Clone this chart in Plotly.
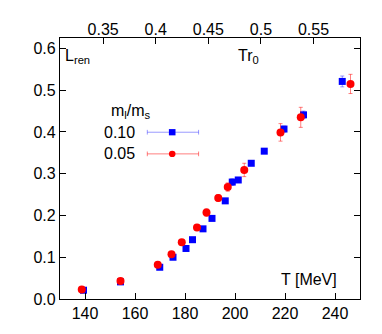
import plotly.graph_objects as go

# ---- data ----
T_010 = [139.4, 154.2, 169.9, 175.2, 180.4, 183.0, 187.2, 190.8, 196.1, 198.9,
         201.3, 206.5, 211.7, 219.6, 227.4, 242.9]
L_010 = [0.021, 0.041, 0.076, 0.100, 0.121, 0.142, 0.168, 0.193, 0.235, 0.280,
         0.285, 0.325, 0.354, 0.407, 0.441, 0.521]
E_010 = [0.002, 0.002, 0.003, 0.003, 0.003, 0.003, 0.004, 0.004, 0.004, 0.008,
         0.005, 0.004, 0.004, 0.007, 0.009, 0.013]

T_005 = [138.7, 154.2, 169.1, 174.6, 178.7, 184.8, 188.6, 193.3, 197.1, 203.7,
         218.2, 226.3, 246.2]
L_005 = [0.023, 0.043, 0.082, 0.107, 0.136, 0.171, 0.207, 0.242, 0.268, 0.309,
         0.399, 0.435, 0.515]
E_005 = [0.003, 0.003, 0.004, 0.005, 0.005, 0.006, 0.009, 0.008, 0.010, 0.016,
         0.021, 0.024, 0.023]

x_range = [130, 250]
y_range = [0, 0.625]
x_ticks = [140, 160, 180, 200, 220, 240]
y_ticks = [0.0, 0.1, 0.2, 0.3, 0.4, 0.5, 0.6]
y_ticklabels = ["0.0", "0.1", "0.2", "0.3", "0.4", "0.5", "0.6"]
top_ticks = [0.35, 0.4, 0.45, 0.5, 0.55]
top_ticklabels = ["0.35", "0.4", "0.45", "0.5", "0.55"]
r0_fm = 0.469
hbarc = 197.327
conv = r0_fm / hbarc

FONT = "Liberation Sans, Arial, sans-serif"
BLUE = "#0000ff"
RED = "#ff0000"

fig = go.Figure()
fig.add_trace(go.Scatter(
    x=T_010, y=L_010, mode="markers",
    marker=dict(symbol="square", size=7, color=BLUE),
    error_y=dict(type="data", array=E_010, color="rgba(0,0,255,0.4)", thickness=1, width=2),
    showlegend=False))
fig.add_trace(go.Scatter(
    x=T_005, y=L_005, mode="markers",
    marker=dict(symbol="circle", size=8, color=RED),
    error_y=dict(type="data", array=E_005, color="rgba(255,0,0,0.5)", thickness=1, width=2),
    showlegend=False))
# invisible trace to carry the top (Tr0) axis
fig.add_trace(go.Scatter(
    x=[t * conv for t in T_010], y=L_010, xaxis="x2", mode="markers",
    marker=dict(opacity=0), hoverinfo="skip", showlegend=False))

axis_common = dict(showline=True, linecolor="black", linewidth=1.2, ticks="inside",
                   ticklen=6, tickcolor="black", showgrid=False, zeroline=False,
                   tickfont=dict(family=FONT, size=16, color="black"))

# page body has an 8px margin, so the figure is shifted by 8px; compensate
fig.update_layout(
    width=374, height=326,
    margin=dict(l=52, r=22, t=25, b=27),
    paper_bgcolor="white", plot_bgcolor="white",
    xaxis=dict(range=x_range, tickvals=x_ticks, **axis_common),
    xaxis2=dict(range=[x_range[0] * conv, x_range[1] * conv], overlaying="x", side="top",
                tickvals=top_ticks, ticktext=top_ticklabels, ticklabelstandoff=-4,
                **axis_common),
    yaxis=dict(range=y_range, tickvals=y_ticks, ticktext=y_ticklabels, mirror="ticks",
               **axis_common),
)

# ---- annotations ----
def ann(text, x, y, xanchor, yanchor="middle", size=16):
    fig.add_annotation(text=text, x=x, y=y, xref="paper", yref="paper",
                       xanchor=xanchor, yanchor=yanchor, showarrow=False,
                       font=dict(family=FONT, size=size, color="black"))

ann("L<sub>ren</sub>", 0.01, 0.93, "left")
ann("Tr<sub>0</sub>", 0.585, 0.93, "left")
ann("T [MeV]", 0.93, 0.075, "right")
ann("m<sub>l</sub>/m<sub>s</sub>", 0.236, 0.72, "center")
ann("0.10", 0.255, 0.639, "right")
ann("0.05", 0.255, 0.556, "right")

# legend keys (paper coords)
def key(yp, color, symbol):
    x0, x1 = 0.291, 0.462
    xm = 0.374
    fig.add_shape(type="line", xref="paper", yref="paper", x0=x0, x1=x1, y0=yp, y1=yp,
                  line=dict(color=color, width=1))
    for xc in (x0, x1):
        fig.add_shape(type="line", xref="paper", yref="paper", x0=xc, x1=xc,
                      y0=yp - 0.009, y1=yp + 0.009, line=dict(color=color, width=1))
    w = 0.011
    h = 0.012
    if symbol == "square":
        fig.add_shape(type="rect", xref="paper", yref="paper", x0=xm - w, x1=xm + w,
                      y0=yp - h, y1=yp + h, fillcolor=BLUE, line=dict(width=0))
    else:
        fig.add_shape(type="circle", xref="paper", yref="paper", x0=xm - w, x1=xm + w,
                      y0=yp - h, y1=yp + h, fillcolor=RED, line=dict(width=0))

key(0.639, "rgba(0,0,255,0.4)", "square")
key(0.556, "rgba(255,0,0,0.5)", "circle")

fig.write_html("out.html")
